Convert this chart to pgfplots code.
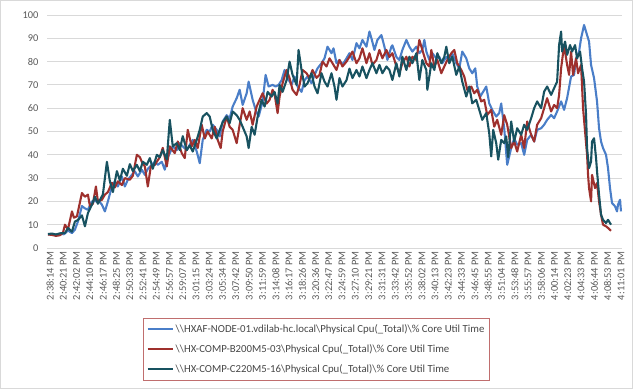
\documentclass[border=0pt]{standalone}
\usepackage{pgfplots}
\pgfplotsset{compat=1.18}
\usepackage{fontspec}
\setmainfont{Carlito}
\definecolor{sBlue}{RGB}{74,126,200}
\definecolor{sRed}{RGB}{158,48,45}
\definecolor{sTeal}{RGB}{24,82,96}
\definecolor{gridc}{RGB}{217,217,217}
\definecolor{tickc}{RGB}{89,89,89}
\definecolor{legc}{RGB}{192,110,110}
\begin{document}
\begin{tikzpicture}
\useasboundingbox (0,0) rectangle (633bp,389bp);
\draw[gridc] (0.5bp,0.5bp) rectangle (632.5bp,388.5bp);
\begin{axis}[
  at={(47bp,141bp)}, anchor=south west,
  scale only axis, width=575bp, height=233bp,
  xmin=47, xmax=623, ymin=0, ymax=100,
  ytick={0,10,...,100},
  xtick={50,63.302,...,622.5},
  xticklabels={2:38:14 PM,2:40:21 PM,2:42:02 PM,2:44:10 PM,2:46:17 PM,2:48:25 PM,2:50:33 PM,2:52:41 PM,2:54:49 PM,2:56:57 PM,2:59:07 PM,3:01:15 PM,3:03:24 PM,3:05:34 PM,3:07:42 PM,3:09:50 PM,3:11:59 PM,3:14:08 PM,3:16:17 PM,3:18:26 PM,3:20:36 PM,3:22:47 PM,3:24:59 PM,3:27:10 PM,3:29:21 PM,3:31:31 PM,3:33:42 PM,3:35:52 PM,3:38:02 PM,3:40:13 PM,3:42:23 PM,3:44:33 PM,3:46:45 PM,3:48:55 PM,3:51:04 PM,3:53:48 PM,3:55:57 PM,3:58:06 PM,4:00:14 PM,4:02:23 PM,4:04:33 PM,4:06:44 PM,4:08:53 PM,4:11:01 PM},
  axis line style={draw=none},
  tick style={draw=none},
  ymajorgrids, grid style={gridc, line width=0.8pt},
  xticklabel style={rotate=90, anchor=east, font=\fontsize{10.4bp}{12bp}\selectfont, text=tickc},
  yticklabel style={font=\fontsize{10.4bp}{12bp}\selectfont, text=tickc, /pgf/number format/assume math mode=true, xshift=-5bp},
  legend style={at={(0.4687,-0.300)}, anchor=north, draw=legc, line width=0.6pt,
    font=\fontsize{10.8bp}{13bp}\selectfont, text=tickc!80!black, row sep=6.5bp, inner xsep=3bp, inner ysep=4.5bp,
    cells={anchor=west}},
  legend image code/.code={\draw[#1, line width=2.2pt] (0bp,0bp) -- (25bp,0bp);},
  every axis plot/.append style={line width=2.1pt, line join=round, no markers},
]
\addplot[sBlue] coordinates {
(48,5.8) (52,6.0) (56,5.6) (60,6.1) (64,5.9) (68,7.5) (72,6.4) (75,7.9) (78,11.4) (82,18) (85,17) (88,16.4) (92,20) (95,20) (98,20.7) (102,18.6) (105,15.7) (108,20) (112,26.4) (115,28.6) (118,26.4) (122,30.7) (125,26.4) (128,29.3) (132,31.4) (135,32.9) (138,30.7) (142,33.6) (145,31.4) (148,34) (152,35.7) (155,37) (158,35.7) (162,37)
(165,33.6) (167,38) (170,40.7) (173,43.6) (177,42) (180,45) (183,43.6) (187,42) (190,44.3) (193,46.4) (197,41.4) (200,36.4) (203,46.4) (207,50.7) (210,50) (213,52.9) (217,50.7) (220,47.9) (223,54.3) (227,57) (230,55.7) (233,60.7) (237,64.3) (240,67.9) (243,61.4) (247,66.4) (249,71.4) (253,63.6) (256,59.3) (259,56.4) (263,62.9) (266,74.3) (269,69.3) (273,70) (276,69.3)
(279,70) (282,72) (285,76.4) (288,72.9) (292,70) (295,73.6) (298,69.3) (302,67) (305,72) (308,73.6) (312,70.7) (315,74.3) (318,77.1) (322,79.3) (325,81.4) (328,86.4) (332,83.6) (334,85.7) (337,79.3) (340,80.7) (343,78.6) (347,81.4) (350,83.6) (353,80.7) (357,87.9) (360,85.7) (363,89.3) (367,86.4) (370,92.9) (372,90) (375,85) (378,89.3) (382,91.4) (385,86.4) (388,80.7) (392,86.4)
(393,87) (397,82) (400,80.7) (403,85) (407,89.3) (410,86.4) (413,84.3) (417,86.4) (420,83.6) (423,85) (425,89.3) (427,84.3) (430,80.7) (433,83.6) (437,81.4) (440,82) (443,79.3) (447,82) (450,80.7) (453,83.6) (457,79.3) (460,77.1) (463,84.3) (467,81.4) (470,77.1) (473,75) (476,77.1) (478,69.3) (481,65) (483,66.4) (487,69.3) (490,62.1) (493,59.3) (497,56.4) (500,57.9) (502,62) (505,51.4) (508,35.7)
(512,42.9) (515,47) (518,44.3) (522,45) (525,40) (528,46.4) (532,48.6) (535,45.7) (538,50.7) (542,51.4) (545,52.9) (548,55) (552,57.1) (555,55.7) (558,58.6) (562,62.9) (565,59.3) (568,64.3) (572,73.6) (575,74.3) (577,81.4) (580,84.3) (582,90) (585,95.7) (588,91.4) (590,88.6) (592,78.6) (595,72.9) (598,62.9) (600,51.4) (602,45.7) (604,42.9) (607,40) (609,34.3) (611,25.7) (613,19.3) (616,17.9) (618,15.7) (619,18.6) (621,20.7) (622,15.7)
};
\addlegendentry{\textbackslash\textbackslash HXAF-NODE-01.vdilab-hc.local\textbackslash Physical Cpu(\_Total)\textbackslash\% Core Util Time}
\addplot[sRed] coordinates {
(48,5.8) (52,5.6) (56,5.2) (60,5.5) (63,6.5) (65,10) (68,8) (72,15.7) (74,13) (77,13.6) (82,23.6) (85,22) (88,22.9) (90,18) (93,19) (96,26.4) (98,20) (102,20.7) (105,22.9) (108,24) (112,28) (115,26) (118,28.6) (122,27) (125,30) (130,29.3) (133,31) (137,40) (140,39) (142,37) (145,35) (148,26.4) (151,35) (155,35.7) (160,39) (163,43)
(167,35) (170,43.6) (175,40.7) (178,45.7) (182,40.7) (185,38.6) (188,50.7) (192,43.6) (195,46.4) (198,42.9) (202,52.9) (205,47) (208,50) (212,47) (215,52) (218,46.4) (221,42.9) (223,50) (227,56.4) (230,52) (233,50.7) (237,45) (240,52.9) (243,60) (247,55) (250,58.6) (253,52.9) (257,60.7) (260,63.6) (263,66.4) (267,62) (270,63.6) (273,67.9) (275,66)
(278,57.9) (280,65) (283,70.7) (287,76.4) (290,72.9) (293,67.9) (297,65.7) (300,70) (303,76.4) (307,75) (310,72.9) (313,76.4) (317,73) (320,74.3) (323,80) (327,77.9) (330,81.4) (333,79.3) (337,76.4) (340,80.7) (343,77.9) (347,80) (350,82.1) (353,84.3) (357,79.3) (360,81.4) (363,85.7) (367,79.3) (370,83.6) (373,78.6) (377,80.7) (380,85) (383,81.4) (387,85) (390,82)
(393,83.6) (397,77.9) (400,75) (403,79.3) (407,82.1) (410,77.9) (413,82.1) (417,80.7) (420,89.3) (423,85) (427,79.3) (430,77.9) (432,85) (435,77.9) (438,80.7) (442,75) (445,77.9) (448,80.7) (452,83.6) (455,85) (458,79.3) (462,76.4) (465,73.6) (468,67.9) (472,69.3) (475,66.4) (478,67.9) (482,62.9) (485,63.6) (488,57.1) (492,59.3) (495,52.1) (498,55) (502,48.6) (505,57) (508,52.9)
(512,42.9) (515,45.7) (518,41.4) (522,48.6) (525,42.9) (528,54.3) (532,48.6) (535,45.7) (538,52.9) (542,55.7) (545,60) (548,64.3) (552,58.6) (555,61.4) (558,60) (560,65.7) (562,77.1) (565,87.1) (568,78.6) (570,74.3) (572,84.3) (574,74.3) (577,81.4) (579,75) (582,78.6) (584,60) (586,50) (588,40) (589,31.4) (590,25.7) (592,20) (593,31.4) (596,25.7) (598,27.9) (600,20) (602,14.3) (604,10) (607,9.3) (609,8.6) (612,7.4)
};
\addlegendentry{\textbackslash\textbackslash HX-COMP-B200M5-03\textbackslash Physical Cpu(\_Total)\textbackslash\% Core Util Time}
\addplot[sTeal] coordinates {
(48,6.0) (52,6.2) (56,5.8) (60,6.3) (65,6.4) (68,8.6) (72,7) (75,11.4) (78,12) (82,14) (85,9.3) (88,15) (92,18.6) (95,22) (98,19) (103,23) (107,37) (110,28.6) (113,24) (117,33) (120,29) (123,34) (127,31) (130,36) (133,33) (137,35.7) (140,33) (143,37) (147,35.7) (150,38.6) (153,34) (157,40) (160,39) (163,42)
(167,38) (170,55) (173,43.6) (177,45) (180,42) (183,48) (187,42) (190,44) (193,41.4) (197,46.4) (200,50.7) (203,56.4) (207,57.9) (210,56.4) (213,50.7) (217,47) (220,50.7) (223,54) (227,56.4) (230,53.6) (233,58.6) (237,57) (240,55) (243,52) (247,47.9) (249,42.9) (252,52) (255,48.6) (258,56.4) (262,63.6) (265,60.7) (268,67) (272,65) (275,67)
(278,62) (280,70) (283,67) (287,72) (290,80) (293,74.3) (297,70) (299,85) (302,76.4) (305,69.3) (308,70.7) (312,75) (315,69.3) (318,66.4) (322,75) (325,71.4) (328,69.3) (332,75) (335,69.3) (337,63.6) (340,72.9) (343,69.3) (347,72) (350,77) (353,72.9) (357,76.4) (360,73.6) (363,77.9) (367,72.9) (370,76.4) (373,79.3) (377,75) (380,78.6) (383,75) (387,77.9) (390,76.4)
(393,72.1) (397,79.3) (400,73.6) (403,82.1) (407,76.4) (410,82.1) (413,79.3) (417,83.6) (420,72.1) (423,80.7) (427,76.4) (428,67.9) (432,79.3) (435,76.4) (438,83.6) (442,79.3) (445,82.1) (447,86.4) (450,79.3) (453,82.1) (457,74.3) (460,77.9) (463,71.4) (467,65) (470,69.3) (473,62.1) (477,63.6) (480,59.3) (483,55) (487,57.9) (490,49.3) (492,39.3) (494,50.7) (497,45) (499,37.9) (502,46.4) (505,45) (507,47.9) (509,39)
(512,54.3) (515,45.7) (518,51.4) (522,48.6) (525,52.9) (528,50.7) (532,55.7) (535,60) (538,62.9) (542,60) (545,67.1) (548,69.3) (552,65.7) (555,68.6) (558,71.4) (560,87.1) (562,92.9) (563,84.3) (566,88.6) (568,82.9) (571,87.1) (573,84.3) (576,87.1) (578,81.4) (581,84.3) (583,77.1) (585,71.4) (587,57.1) (588,42.9) (590,34.3) (592,37.1) (593,45.7) (595,47.1) (597,38.6) (598,32.9) (600,22.9) (602,14.3) (604,12.1) (607,10.7) (609,12.1) (611,10.7) (612,10)
};
\addlegendentry{\textbackslash\textbackslash HX-COMP-C220M5-16\textbackslash Physical Cpu(\_Total)\textbackslash\% Core Util Time}
\end{axis}
\end{tikzpicture}
\end{document}
